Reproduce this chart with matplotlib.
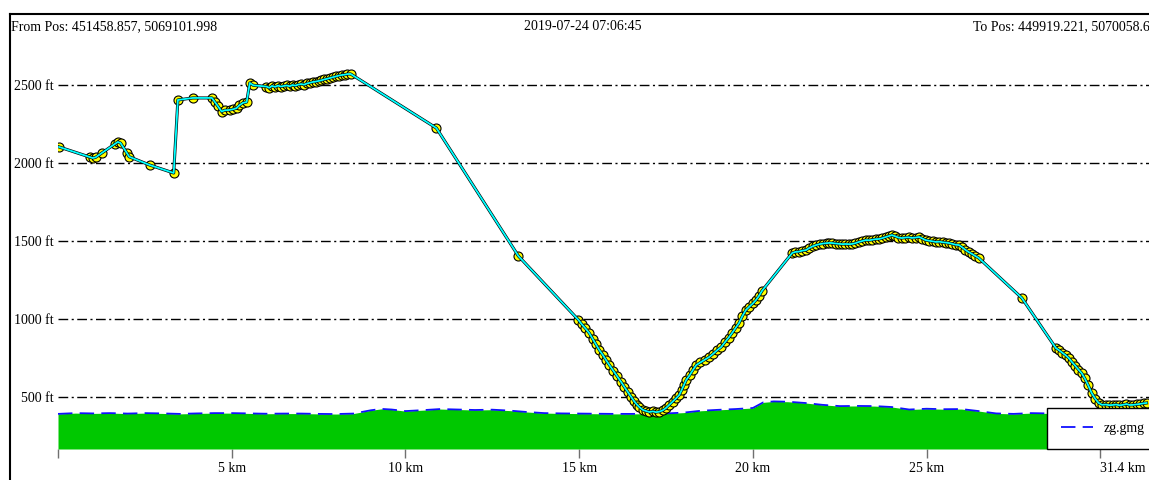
#!/usr/bin/env python3
import matplotlib
matplotlib.use('Agg')
import matplotlib.pyplot as plt

W, H = 1149, 480

# track points (distance in km, elevation in ft)
track_km = [
    0.03, 0.92, 1.00, 1.08, 1.26, 1.65, 1.72, 1.80, 1.98, 2.05, 2.64, 3.33,
    3.45, 3.88, 4.43, 4.52, 4.60, 4.71, 4.80, 4.94, 5.05, 5.14, 5.22, 5.32,
    5.43, 5.52, 5.62,
    6.00, 6.08, 6.16, 6.25, 6.33, 6.42, 6.50, 6.58, 6.67, 6.75, 6.83, 6.92,
    7.00, 7.08, 7.17, 7.25, 7.33, 7.42, 7.50, 7.58, 7.67, 7.75, 7.83, 7.92,
    8.00, 8.08, 8.17, 8.25, 8.33, 8.42,
    10.89, 13.25,
    14.98, 15.08, 15.18, 15.29, 15.39, 15.48, 15.58, 15.68, 15.77, 15.87,
    15.98, 16.09, 16.21, 16.30, 16.40, 16.50, 16.58, 16.66, 16.73, 16.83,
    16.93, 17.02, 17.12, 17.21, 17.30, 17.40, 17.50, 17.59, 17.69, 17.79,
    17.88, 17.95, 18.02, 18.08, 18.18, 18.27, 18.37, 18.49, 18.62, 18.74,
    18.86, 18.97, 19.09, 19.19, 19.30, 19.40, 19.50, 19.60, 19.70, 19.80,
    19.90, 20.00, 20.09, 20.18, 20.26,
    21.13, 21.22, 21.32, 21.42, 21.53, 21.62, 21.72, 21.82, 21.92, 22.02,
    22.12, 22.20, 22.28, 22.38, 22.48, 22.57, 22.66, 22.76, 22.85, 22.95,
    23.05, 23.15, 23.25, 23.35, 23.44, 23.54, 23.63, 23.72, 23.82, 23.91,
    24.00, 24.10, 24.19, 24.29, 24.38, 24.48, 24.57, 24.68, 24.78, 24.88,
    24.97, 25.07, 25.17, 25.27, 25.37, 25.46, 25.55, 25.64, 25.74, 25.84,
    25.93, 26.02, 26.11, 26.21, 26.30, 26.40, 26.50,
    27.74,
    28.72, 28.81, 28.90, 29.00, 29.09, 29.18, 29.28, 29.37, 29.46, 29.55,
    29.65, 29.75, 29.85, 29.95, 30.05, 30.15, 30.25, 30.35, 30.45, 30.55,
    30.65, 30.75, 30.85, 30.95, 31.05, 31.15, 31.25, 31.33,
]
track_ft = [
    2103, 2038, 2032, 2036, 2064, 2125, 2135, 2128, 2064, 2040, 1987, 1936,
    2404, 2417, 2417, 2390, 2365, 2330, 2338, 2340, 2345, 2352, 2370, 2385,
    2391, 2513, 2498,
    2490, 2482, 2494, 2488, 2496, 2490, 2494, 2497, 2492, 2500, 2496, 2503,
    2506, 2502, 2510, 2514, 2519, 2522, 2526, 2530, 2536, 2540, 2545, 2550,
    2555, 2560, 2564, 2566, 2570, 2571,
    2224, 1404,
    994, 965, 940, 910, 872, 838, 801, 770, 738, 705,
    670, 634, 596, 565, 532, 500, 474, 452, 436, 418,
    410, 404, 408, 403, 406, 414, 430, 449, 470, 492,
    513, 545, 580, 609, 640, 672, 705, 722, 740, 756,
    778, 800, 821, 850, 880, 910, 942, 974, 1020, 1058,
    1080, 1100, 1122, 1150, 1180,
    1423, 1430, 1432, 1438, 1442, 1455, 1466, 1474, 1480, 1484,
    1486, 1488, 1487, 1484, 1482, 1480, 1481, 1480, 1481, 1486,
    1494, 1500, 1506, 1505, 1508, 1512, 1513, 1518, 1525, 1532,
    1538, 1530, 1522, 1519, 1522, 1524, 1520, 1522, 1526, 1516,
    1506, 1502, 1498, 1494, 1496, 1492, 1490, 1487, 1482, 1476,
    1474, 1460, 1444, 1429, 1418, 1404, 1391,
    1135,
    814, 800, 785, 768, 750, 725, 700, 676, 654, 620,
    575, 526, 490, 462, 450, 452, 448, 449, 452, 447,
    450, 455, 449, 450, 453, 456, 460, 462,
]

# ground profile
ground_km = [
    0.0, 0.5, 1.0, 1.5, 2.0, 2.5, 3.0, 3.5, 4.0, 4.5, 5.0, 5.5, 6.0, 6.5,
    7.0, 7.5, 8.0, 8.5, 9.0, 9.3, 9.6, 10.0, 10.5, 11.0, 11.5, 12.0, 12.5,
    13.0, 13.5, 14.0, 14.5, 15.0, 15.5, 16.0, 16.5, 17.0, 17.5, 18.0, 18.5,
    19.0, 19.5, 20.0, 20.3, 20.6, 21.0, 21.5, 22.0, 22.5, 23.0, 23.5, 24.0,
    24.5, 25.0, 25.5, 26.0, 26.5, 27.0, 27.5, 28.0, 28.5, 29.0, 29.5, 30.0,
    30.5, 31.0, 31.4,
]
ground_ft = [
    392, 397, 395, 397, 394, 397, 395, 392, 395, 397, 397, 395, 393, 394,
    394, 392, 391, 394, 415, 424, 420, 410, 416, 423, 420, 417, 419,
    413, 404, 397, 395, 394, 393, 392, 392, 393, 395, 400, 412,
    418, 423, 430, 466, 472, 470, 462, 450, 442, 443, 442, 436,
    420, 425, 422, 423, 410, 395, 392, 397, 395, 398, 400, 398,
    400, 398, 400,
]

y_ticks = [500, 1000, 1500, 2000, 2500]
x_ticks = [0, 5, 10, 15, 20, 25, 30]
x_labels = ['', '5 km', '10 km', '15 km', '20 km', '25 km', '31.4 km']

from_text = 'From Pos: 451458.857, 5069101.998'
date_text = '2019-07-24 07:06:45'
to_text = 'To Pos: 449919.221, 5070058.640'

plt.rcParams['font.family'] = ['Liberation Serif', 'DejaVu Serif']
plt.rcParams['font.size'] = 10

fig = plt.figure(figsize=(W / 100, H / 100), dpi=100)

# outer frame (only top and left edges are visible in the picture)
frame = fig.add_axes([10 / W, 0, 1 - 10 / W, 1 - 14 / H], zorder=0)
frame.set_facecolor('none')
frame.set_xticks([])
frame.set_yticks([])
for side in ('right', 'bottom'):
    frame.spines[side].set_visible(False)
for side in ('top', 'left'):
    frame.spines[side].set_linewidth(1.5)

ax = fig.add_axes([58 / W, 31 / H, (W - 58) / W, (449 - 14) / H], zorder=1)
ax.set_facecolor('none')
ax.set_xlim(0, 31.4)
ax.set_ylim(167, 2955)
for s in ax.spines.values():
    s.set_visible(False)

ax.set_yticks(y_ticks)
ax.set_yticklabels([f'{v} ft' for v in y_ticks])
ax.tick_params(axis='y', length=0, pad=3.5, labelsize=10)
ax.set_xticks(x_ticks)
ax.set_xticklabels(x_labels)
ax.tick_params(axis='x', length=6.5, width=1, color='#707070', pad=3, labelsize=10)
last = ax.get_xticklabels()[-1]
last.set_horizontalalignment('left')

ax.yaxis.grid(True, color='black', lw=1, linestyle=(0, (7, 2.5, 1.5, 2.5)))
ax.set_axisbelow(True)

ax.fill_between(ground_km, 167, ground_ft, color='#00c800', lw=0, zorder=2)
ax.plot(ground_km, ground_ft, color='#1010ff', lw=1.3, linestyle=(0, (8, 4)),
        label='zg.gmg', zorder=3)

ax.plot(track_km, track_ft, linestyle='none', marker='o', ms=6.5,
        mfc='#ffff00', mec='black', mew=0.8, zorder=4)
ax.plot(track_km, track_ft, color='black', lw=2.2, zorder=5)
ax.plot(track_km, track_ft, color='#00ffff', lw=1.3, zorder=6)

leg = ax.legend(loc='lower left', bbox_to_anchor=(1047 / W, 31 / H),
                bbox_transform=fig.transFigure, borderaxespad=0,
                fancybox=False, edgecolor='black', framealpha=1,
                borderpad=1.0, handlelength=2.3, handletextpad=0.8,
                fontsize=10)
leg.get_frame().set_linewidth(1.0)
leg.set_zorder(10)

fig.text(11 / W, 1 - 27 / H, from_text, ha='left', va='center', fontsize=10)
fig.text(583 / W, 1 - 27 / H, date_text, ha='center', va='center', fontsize=10)
# the reference clips this text at the right edge as well
fig.text(973 / W, 1 - 27 / H, to_text, ha='left', va='center', fontsize=10)

fig.savefig('out.png', dpi=100)
